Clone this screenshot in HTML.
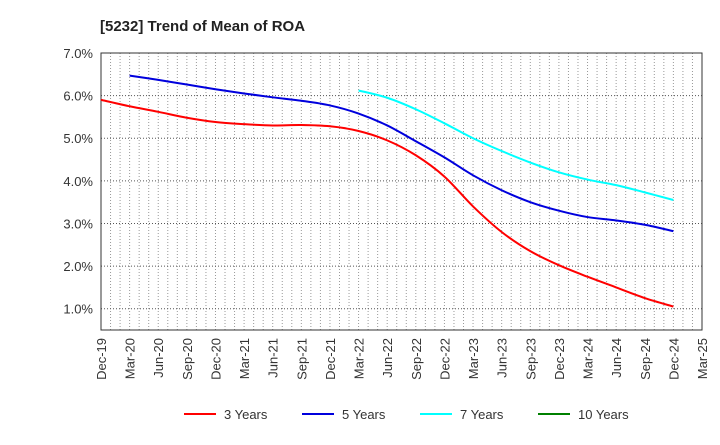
<!DOCTYPE html>
<html><head><meta charset="utf-8"><style>
body{margin:0;background:#fff;font-family:"Liberation Sans",sans-serif;}
</style></head><body>
<svg width="720" height="440" xmlns="http://www.w3.org/2000/svg">
<text x="100" y="31" font-size="15" font-weight="bold" fill="#222">[5232]  Trend of Mean of ROA</text>
<g id="grid"></g>
<rect x="101" y="53" width="601" height="277" fill="none" stroke="#333" stroke-width="1"/>
<g id="yticks"></g><g id="xticks"></g><g id="series"></g><g id="legend"></g>
</svg>
<script>
const quarters=["Dec-19","Mar-20","Jun-20","Sep-20","Dec-20","Mar-21","Jun-21","Sep-21","Dec-21","Mar-22","Jun-22","Sep-22","Dec-22","Mar-23","Jun-23","Sep-23","Dec-23","Mar-24","Jun-24","Sep-24","Dec-24","Mar-25"];
const yTicks=[1.0,2.0,3.0,4.0,5.0,6.0,7.0];
const s3=[5.9,5.75,5.62,5.48,5.38,5.33,5.30,5.31,5.28,5.17,4.95,4.6,4.1,3.4,2.8,2.35,2.02,1.75,1.5,1.25,1.05];
const s5=[null,6.47,6.37,6.26,6.15,6.05,5.96,5.88,5.77,5.58,5.3,4.93,4.55,4.13,3.78,3.5,3.3,3.15,3.07,2.97,2.82];
const s7=[null,null,null,null,null,null,null,null,null,6.12,5.95,5.68,5.35,5.0,4.7,4.43,4.2,4.03,3.9,3.73,3.55];
const s10=[];
const NS="http://www.w3.org/2000/svg";
const X0=101,X1=702,Y0=330,Y1=53,ymin=0.5,ymax=7.0;
const xq=i=>X0+(X1-X0)*i/(quarters.length-1);
const y=v=>Y0-(v-ymin)/(ymax-ymin)*(Y0-Y1);
function mk(t,a,p){const e=document.createElementNS(NS,t);for(const k in a)e.setAttribute(k,a[k]);p.appendChild(e);return e;}
const grid=document.getElementById('grid');
const months=(quarters.length-1)*3;
for(let m=1;m<months;m++){const x=X0+(X1-X0)*m/months;
const l=mk('line',{x1:x,x2:x,y1:Y1,y2:Y0,stroke:'#999','stroke-dasharray':'1,2','stroke-width':1},grid);

}
const yt=document.getElementById('yticks');
yTicks.forEach(v=>{const l=mk('line',{x1:X0,x2:X1,y1:y(v),y2:y(v),stroke:'#555','stroke-dasharray':'1,2'},grid);


const t=mk('text',{x:93,y:y(v)+5,'text-anchor':'end','font-size':13,fill:'#333'},yt);t.textContent=v.toFixed(1)+'%';

});
const xt=document.getElementById('xticks');
quarters.forEach((q,i)=>{const x=xq(i);const t=mk('text',{transform:`translate(${x+5},338) rotate(-90)`,'text-anchor':'end','font-size':13,fill:'#333'},xt);t.textContent=q;

});
function path(arr){const p=[];arr.forEach((v,i)=>{if(v!=null)p.push([xq(i),y(v)]);});if(p.length<2)return '';
let d=`M${p[0][0]},${p[0][1]}`;for(let i=0;i<p.length-1;i++){const a=p[i-1]||p[i],b=p[i],c=p[i+1],e=p[i+2]||c;
d+=` C${b[0]+(c[0]-a[0])/6},${b[1]+(c[1]-a[1])/6} ${c[0]-(e[0]-b[0])/6},${c[1]-(e[1]-b[1])/6} ${c[0]},${c[1]}`;}return d;}
const sg=document.getElementById('series');
[[s3,'#ff0000','series-3-years'],[s5,'#0000dd','series-5-years'],[s7,'#00ffff','series-7-years'],[s10,'#008000','series-10-years']].forEach(([a,c,n])=>{
const d=path(a);if(!d)return;const e=mk('path',{d:d,fill:'none',stroke:c,'stroke-width':2},sg);

});
const lg=document.getElementById('legend');
[['3 Years','#ff0000',184],['5 Years','#0000dd',302],['7 Years','#00ffff',420],['10 Years','#008000',538]].forEach(([t,c,x])=>{
const g=mk('g',{},lg);


mk('line',{x1:x,x2:x+32,y1:414,y2:414,stroke:c,'stroke-width':2},g);
const tx=mk('text',{x:x+40,y:419,'font-size':13,fill:'#333'},g);tx.textContent=t;});
</script>
</body></html>
